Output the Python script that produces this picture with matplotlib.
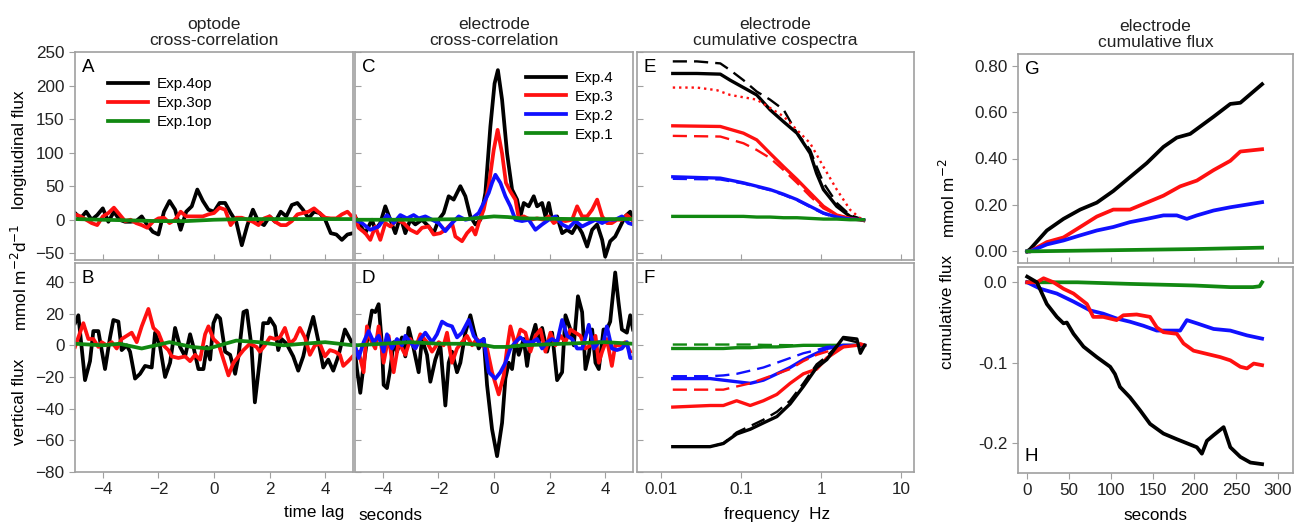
import numpy as np
import matplotlib.pyplot as plt
from matplotlib.ticker import FixedLocator, FixedFormatter, FormatStrFormatter

plt.rcParams['font.family'] = ['Liberation Sans', 'DejaVu Sans']

BLACK = 'black'
RED = '#ff1010'
BLUE = '#1010ff'
GREEN = '#118811'
FRAME = '#a0a0a0'

# ---------------- panel A (optode, longitudinal) ----------------
lag_a = [-5.0, -4.8, -4.6, -4.4, -4.2, -4.0, -3.8, -3.6, -3.4, -3.2, -3.0, -2.8, -2.6,
         -2.4, -2.2, -2.0, -1.8, -1.6, -1.4, -1.2, -1.0, -0.8, -0.6, -0.4, -0.2, 0.0,
         0.2, 0.4, 0.6, 0.8, 1.0, 1.2, 1.4, 1.6, 1.8, 2.0, 2.2, 2.4, 2.6, 2.8, 3.0,
         3.2, 3.4, 3.6, 3.8, 4.0, 4.2, 4.4, 4.6, 4.8, 5.0]
a_exp4 = [10, 2, 12, 0, 7, 17, -3, 12, 0, -3, -3, -2, 5, -8, -18, -22, 12, 28, 15, -15,
          12, 20, 45, 28, 15, 12, 25, 25, 10, -3, -38, -8, 15, -3, -8, 5, -3, 12, 5, 22,
          25, 15, 2, 12, 10, 0, -20, -22, -30, -22, -20]
a_exp3 = [8, 5, 0, -5, -8, 5, 10, 18, 8, -2, 0, -5, -8, -12, -3, 2, 3, -5, 0, 12, 5, 5,
          5, 5, 8, 10, 18, 15, -8, 3, 3, 0, -3, -8, 2, 5, -3, -8, -8, -2, 8, 10, 12, 17,
          10, 3, 2, 2, 8, 12, 3]
lag_a1 = [-5, -4, -3, -2, -1, 0, 1, 2, 3, 4, 5]
a_exp1 = [1, 0, -1, -2, -2, 0, 1, 1, 1, 1, 1]

# ---------------- panel B (optode, vertical) ----------------
lag_b4 = [-5.0, -4.88, -4.64, -4.46, -4.34, -4.16, -3.92, -3.74, -3.62, -3.44, -3.32, -3.14,
          -3.02, -2.84, -2.66, -2.48, -2.24, -2.12, -1.94, -1.76, -1.58, -1.40, -1.22, -1.04,
          -0.86, -0.74, -0.56, -0.38, -0.26, -0.14, -0.02, 0.10, 0.22, 0.40, 0.58, 0.76, 0.88,
          1.06, 1.18, 1.35, 1.47, 1.65, 1.77, 1.95, 2.01, 2.19, 2.31, 2.43, 2.61, 2.85, 3.03,
          3.21, 3.39, 3.57, 3.75, 3.93, 4.11, 4.29, 4.47, 4.71, 4.95]
b_exp4 = [14, 19, -22, -10, 9, 9, -15, 5, 16, 15, -3, 0, -4, -21, -18, -13, -14, 8, -1, -20,
          -11, 11, -1, -7, 7, -1, -15, -15, -1, -9, 14, 19, 17, -4, -6, -18, -7, 21, 22, -1,
          -36, -9, 14, 14, 17, 12, -3, 4, 1, -7, -16, -7, 7, 18, 3, -14, -9, -16, -7, 10, 2]
lag_b3 = [-5.0, -4.88, -4.70, -4.52, -4.34, -4.16, -4.04, -3.86, -3.68, -3.50, -3.32, -3.14,
          -2.96, -2.78, -2.60, -2.36, -2.18, -2.00, -1.82, -1.64, -1.52, -1.28, -1.04, -0.86,
          -0.68, -0.50, -0.32, -0.20, -0.02, 0.16, 0.34, 0.52, 0.70, 0.88, 1.06, 1.29, 1.53,
          1.65, 1.83, 2.01, 2.19, 2.37, 2.55, 2.73, 2.91, 3.09, 3.27, 3.45, 3.63, 3.81, 3.99,
          4.17, 4.35, 4.53, 4.65, 4.83, 4.99]
b_exp3 = [-1, 5, 14, 4, 4, -1, 2, 0, 2, -2, 4, 6, 8, 2, 12, 23, 11, 8, 0, -3, -7, -8, -7,
          -10, -6, -9, 7, 12, 4, 1, -9, -19, -11, -7, -3, 1, -1, -4, 0, 5, 4, 5, 11, 1, 4,
          11, 5, -6, 0, 1, -7, -3, -4, -6, -13, -10, -7]
lag_b1 = [-5.0, -4.0, -3.4, -2.6, -1.6, -0.8, -0.2, 0.8, 1.6, 2.5, 3.2, 4.0, 5.0]
b_exp1 = [1, 0, 1, -2, 2, -1, -2, 3, 2, 0, 1, 2, 0]

# ---------------- panel C (electrode, longitudinal) ----------------
lag_c4 = [-5.0, -4.87, -4.63, -4.39, -4.27, -4.09, -3.91, -3.73, -3.55, -3.37, -3.19, -3.01,
          -2.83, -2.59, -2.35, -2.17, -1.99, -1.81, -1.63, -1.45, -1.21, -1.03, -0.85, -0.67,
          -0.49, -0.31, -0.13, 0.02, 0.14, 0.29, 0.47, 0.65, 0.83, 0.95, 1.07, 1.25, 1.43,
          1.55, 1.73, 1.85, 1.97, 2.09, 2.27, 2.45, 2.63, 2.81, 2.99, 3.17, 3.35, 3.53, 3.71,
          3.89, 4.00, 4.18, 4.36, 4.54, 4.72, 4.90, 5.0]
c_exp4 = [5, -5, -20, 0, -15, -5, 20, 0, -20, 5, -20, 0, -7, 0, -10, -20, 0, 10, 35, 30,
          50, 35, 5, -7, 0, 40, 139, 203, 223, 179, 99, 45, 30, 5, 25, 20, 35, 20, 25, 5, 25,
          0, 5, -20, -15, -20, -7, -20, -40, -15, -7, -30, -55, -32, -25, -10, 5, 12, 0]
lag_c3 = [-5.0, -4.87, -4.63, -4.45, -4.27, -4.09, -3.91, -3.73, -3.49, -3.25, -3.01, -2.77,
          -2.59, -2.35, -2.17, -1.93, -1.75, -1.51, -1.39, -1.15, -0.97, -0.79, -0.67, -0.55,
          -0.37, -0.19, -0.01, 0.13, 0.29, 0.43, 0.59, 0.77, 0.89, 1.07, 1.31, 1.55, 1.79,
          1.97, 2.15, 2.33, 2.57, 2.81, 2.99, 3.17, 3.35, 3.53, 3.71, 3.89, 4.07, 4.24, 4.42,
          4.60, 4.78, 4.96]
c_exp3 = [5, -12, -20, -30, -10, -30, -5, -10, 0, -5, -15, -20, -12, -10, -22, -20, -15, -5,
          -25, -32, -20, -12, -22, -5, 15, 50, 104, 134, 99, 55, 42, 30, 2, 5, 0, 2, 0, 5,
          -5, 0, -2, 0, 20, 5, 5, 15, 30, 5, -5, -5, 0, 0, 7, 0]
lag_c2 = [-5.0, -4.75, -4.45, -4.15, -3.85, -3.61, -3.37, -3.13, -2.89, -2.71, -2.47, -2.23,
          -1.99, -1.75, -1.51, -1.27, -1.03, -0.79, -0.55, -0.37, -0.19, -0.07, 0.05, 0.23,
          0.41, 0.59, 0.77, 1.01, 1.25, 1.49, 1.73, 1.97, 2.21, 2.45, 2.69, 2.93, 3.17, 3.41,
          3.65, 3.89, 4.12, 4.36, 4.60, 4.84, 5.0]
c_exp2 = [0, -5, -15, -10, 7, -5, 7, 2, 7, 2, 5, 0, -5, -17, -5, 5, 0, 2, 10, 25, 40, 55,
          67, 55, 35, 20, 0, -2, 0, -15, -7, 0, 5, -7, -12, -2, -10, -5, 0, -5, 0, 0, 5, -5, -7]
lag_c1 = [-5.0, -3.0, -1.0, -0.5, 0.0, 0.5, 1.0, 3.0, 5.0]
c_exp1 = [0, 0, 1, 3, 5, 4, 2, 1, 1]

# ---------------- panel D (electrode, vertical) ----------------
lag_d4 = [-5.0, -4.93, -4.81, -4.68, -4.51, -4.39, -4.27, -4.15, -4.03, -3.97, -3.85, -3.73,
          -3.61, -3.49, -3.31, -3.19, -3.07, -2.89, -2.71, -2.59, -2.41, -2.29, -2.11, -1.93,
          -1.75, -1.63, -1.51, -1.33, -1.21, -1.03, -0.85, -0.73, -0.55, -0.37, -0.25, -0.07,
          0.11, 0.29, 0.41, 0.53, 0.65, 0.77, 0.89, 1.07, 1.19, 1.31, 1.49, 1.61, 1.73, 1.91,
          2.09, 2.27, 2.45, 2.57, 2.75, 2.87, 3.02, 3.17, 3.29, 3.41, 3.53, 3.65, 3.77, 3.94,
          4.06, 4.18, 4.36, 4.48, 4.60, 4.78, 4.90, 5.0]
d_exp4 = [-4, -15, -30, -11, 10, 22, 21, 26, 0, -25, -27, -15, 2, -4, 5, -7, 11, -2, -17, 4,
          -6, -23, -9, 0, -38, -11, -4, -17, -11, 8, 19, 10, -2, 4, -25, -53, -70, -49, -21,
          -11, -15, 2, -6, 4, -13, 2, 13, 2, 11, -4, 8, -22, -17, 19, 10, 0, 31, 21, -15, -6,
          10, -11, -15, 10, 10, 15, 46, 27, 10, 8, 19, 10]
lag_d3 = [-5.0, -4.87, -4.69, -4.57, -4.45, -4.27, -4.15, -3.97, -3.79, -3.61, -3.43, -3.19,
          -3.01, -2.83, -2.65, -2.41, -2.23, -1.99, -1.81, -1.69, -1.51, -1.33, -1.15, -0.97,
          -0.79, -0.61, -0.43, -0.25, -0.07, 0.17, 0.35, 0.47, 0.59, 0.77, 0.95, 1.13, 1.31,
          1.49, 1.67, 1.85, 2.03, 2.21, 2.39, 2.57, 2.75, 2.93, 3.11, 3.29, 3.47, 3.65, 3.77,
          3.89, 4.06, 4.24, 4.36, 4.54, 4.72, 4.90]
d_exp3 = [-6, -4, -17, 12, 4, -2, 12, -11, 6, -17, 2, -6, 4, -2, 7, 2, -4, 2, 0, 8, -11, -2,
          2, 6, 0, 4, 0, -2, -17, -31, -19, -2, 12, 0, 10, 8, -4, 6, 10, -4, 8, 0, 6, 2, 10,
          8, 6, -2, 0, 6, -11, -4, 4, -13, 0, 0, 2, -4]
lag_d2 = [-5.0, -4.87, -4.69, -4.51, -4.33, -4.15, -3.97, -3.85, -3.67, -3.49, -3.31, -3.19,
          -3.01, -2.83, -2.65, -2.47, -2.23, -2.05, -1.87, -1.69, -1.51, -1.33, -1.15, -0.91,
          -0.73, -0.55, -0.37, -0.19, 0.05, 0.23, 0.41, 0.59, 0.77, 0.95, 1.13, 1.37, 1.55,
          1.73, 1.91, 2.09, 2.27, 2.45, 2.63, 2.81, 2.99, 3.17, 3.29, 3.41, 3.59, 3.77, 3.94,
          4.06, 4.24, 4.42, 4.60, 4.78, 4.90, 5.0]
d_exp2 = [0, -8, 2, 9, 2, 6, -4, 7, -2, 4, 0, 6, 2, -2, 4, 8, 2, 7, 15, 13, 12, 5, 8, 16, 6,
          2, 4, -17, -21, -17, -11, -2, 2, 5, 2, 2, 4, -2, 2, 4, 2, 16, 6, 4, -2, -2, 5, 13,
          -2, 2, 2, 12, -2, -3, -2, 2, -8, -8]
lag_d1 = [-5.0, -4.0, -3.0, -2.0, -1.0, -0.3, 0.0, 0.5, 1.0, 2.5, 4.0, 5.0]
d_exp1 = [0, 1, 2, 1, 1, 0, -1, -1, 0, 1, 2, 1]

# ---------------- panel E (cumulative cospectra, longitudinal) ----------------
f_e4 = [0.014, 0.028, 0.055, 0.073, 0.107, 0.157, 0.23, 0.34, 0.50, 0.73, 0.88, 1.07, 1.57, 2.3, 3.4]
e_exp4 = [218, 218, 217, 208, 197, 186, 164, 146, 129, 99, 69, 45, 20, 5, -1]
e_exp4_dash = [236, 236, 233, 223, 208, 191, 179, 164, 129, 104, 79, 55, 25, 7, 0]
f_e4_dot = [0.014, 0.028, 0.050, 0.073, 0.157, 0.34, 0.73, 1.07, 1.57, 2.3, 3.4]
e_exp4_dot = [197, 197, 193, 186, 179, 154, 114, 79, 45, 15, -2]
f_e = [0.014, 0.055, 0.107, 0.157, 0.23, 0.34, 0.50, 0.73, 1.07, 1.57, 2.3, 3.4]
e_exp3 = [140, 139, 129, 119, 99, 79, 60, 40, 20, 7, 2, -1]
e_exp3_dash = [125, 124, 114, 104, 92, 74, 55, 35, 17, 7, 2, -1]
e_exp2 = [64, 62, 55, 50, 45, 38, 30, 20, 10, 4, 1, 0]
e_exp2_dash = [61, 60, 54, 49, 44, 37, 29, 19, 9, 3, 1, 0]
e_exp1 = [5, 5, 5, 4, 4, 3, 3, 2, 1, 1, 0, 0]

# ---------------- panel F (cumulative cospectra, vertical) ----------------
f_f = [0.014, 0.041, 0.060, 0.088, 0.13, 0.19, 0.28, 0.41, 0.60, 0.88, 1.18, 1.9, 2.8, 3.1, 3.5]
f_exp4 = [-64, -64, -62, -56, -53, -49, -45, -37, -26, -14, -9, 5, 4, -5, 0]
f_exp4_dash = [-64, -64, -62, -55, -51, -47, -42, -35, -24, -12, -7, 4, 2, -3, 0]
f_exp3 = [-39, -38, -38, -35, -38, -35, -31, -24, -18, -15, -8, -1, 0, 1, 0]
f_exp3_dash = [-28, -28, -28, -26, -24, -21, -18, -15, -10, -6, -4, -1, 0, 0, 0]
f_exp2 = [-21, -21, -22, -23, -24, -22, -18, -14, -9, -5, -2, 0, 0, 0, 0]
f_exp2_dash = [-19.5, -19.5, -19, -18, -16, -14, -11, -8, -5, -3, -1, 0, 0, 0, 0]
f_exp1 = [-2, -2, -2, -1.5, -1.5, -1, -1, -0.5, 0, 0, 0, 0, 0, 0, 0]
f_exp1_dash = [0.5, 0.5, 0.5, 0.5, 0.5, 0.3, 0.2, 0.1, 0, 0, 0, 0, 0, 0, 0]

# ---------------- panel G (cumulative flux, longitudinal) ----------------
t_g4 = [0, 3.6, 23.5, 43.4, 63.4, 83.3, 103, 123, 143, 163, 179, 195, 223, 243, 255, 281]
g_exp4 = [0, 0.01, 0.09, 0.14, 0.18, 0.21, 0.26, 0.32, 0.38, 0.45, 0.49, 0.506, 0.58, 0.635, 0.64, 0.72]
t_g = [0, 3.6, 23.5, 43.4, 63.4, 83.3, 103, 123, 143, 163, 183, 203, 223, 243, 255, 281]
g_exp3 = [0, 0, 0.04, 0.06, 0.105, 0.15, 0.18, 0.18, 0.21, 0.24, 0.28, 0.305, 0.35, 0.39, 0.43, 0.44]
t_g2 = [0, 3.6, 23.5, 43.4, 63.4, 83.3, 103, 123, 143, 163, 179, 191, 203, 223, 243, 281]
g_exp2 = [0, 0, 0.03, 0.047, 0.069, 0.09, 0.105, 0.126, 0.14, 0.155, 0.155, 0.14, 0.155, 0.176, 0.19, 0.212]
t_g1 = [0, 100, 200, 281]
g_exp1 = [0, 0.005, 0.01, 0.016]

# ---------------- panel H (cumulative flux, vertical) ----------------
t_h4 = [0, 11.6, 23.5, 35.5, 43.4, 47.4, 55.4, 67.4, 83.3, 99.3, 105, 111, 123, 135, 147, 163,
        179, 191, 203, 209, 215, 223, 235, 243, 255, 267, 281]
h_exp4 = [0.007, 0, -0.027, -0.043, -0.051, -0.05, -0.064, -0.08, -0.093, -0.105, -0.114, -0.13,
          -0.143, -0.159, -0.176, -0.188, -0.195, -0.2, -0.205, -0.213, -0.197, -0.19, -0.18,
          -0.205, -0.217, -0.224, -0.226]
t_h3 = [0, 11.6, 19.6, 31.5, 43.4, 55.4, 71.4, 79, 91, 107, 115, 131, 147, 155, 163, 179, 187,
        199, 215, 231, 243, 255, 263, 271, 281]
h_exp3 = [0, 0, 0.005, 0, -0.008, -0.014, -0.027, -0.043, -0.043, -0.047, -0.041, -0.04, -0.043,
          -0.056, -0.062, -0.064, -0.076, -0.085, -0.089, -0.093, -0.097, -0.105, -0.107,
          -0.101, -0.103]
t_h2 = [0, 15.6, 35.5, 55.4, 75.4, 91, 107, 123, 139, 155, 171, 183, 191, 203, 223, 243, 263, 281]
h_exp2 = [0, -0.008, -0.014, -0.024, -0.035, -0.039, -0.045, -0.049, -0.054, -0.06, -0.06,
          -0.06, -0.047, -0.051, -0.058, -0.06, -0.066, -0.07]
t_h1 = [0, 60, 123, 200, 243, 270, 278, 281]
h_exp1 = [0, 0, -0.002, -0.004, -0.006, -0.006, -0.005, 0.0]


fig = plt.figure(figsize=(12.96, 5.23), dpi=100)
W, H = 1296.0, 523.0
FS = 12.3


def add_ax(x0, y0, x1, y1, **kw):
    return fig.add_axes([x0 / W, 1 - y1 / H, (x1 - x0) / W, (y1 - y0) / H], **kw)


def style(ax):
    for s in ax.spines.values():
        s.set_color(FRAME)
        s.set_linewidth(1.2)
    ax.tick_params(colors=FRAME, labelcolor='#222222', labelsize=FS, length=4)


axA = add_ax(75, 52, 353, 260)
axB = add_ax(75, 263, 353, 472)
axC = add_ax(355, 52, 633, 260)
axD = add_ax(355, 263, 633, 472)
axE = add_ax(637, 52, 914, 260)
axF = add_ax(637, 263, 914, 472)
axG = add_ax(1018, 54, 1293, 263)
axH = add_ax(1018, 267, 1293, 473)

lw = 2.7
lw_e = 2.4
lw_dash = 1.7
dash = (0, (6, 3))

# A
axA.plot(lag_a, a_exp4, color=BLACK, lw=lw, label='Exp.4op')
axA.plot(lag_a, a_exp3, color=RED, lw=lw, label='Exp.3op')
axA.plot(lag_a1, a_exp1, color=GREEN, lw=lw, label='Exp.1op')
axA.legend(loc='upper left', bbox_to_anchor=(0.07, 0.945), frameon=False, fontsize=11,
           handlelength=2.6, labelspacing=0.32, handletextpad=0.6)

# B
axB.plot(lag_b4, b_exp4, color=BLACK, lw=lw)
axB.plot(lag_b3, b_exp3, color=RED, lw=lw)
axB.plot(lag_b1, b_exp1, color=GREEN, lw=lw)

# C
axC.plot(lag_c4, c_exp4, color=BLACK, lw=lw, label='Exp.4')
axC.plot(lag_c3, c_exp3, color=RED, lw=lw, label='Exp.3')
axC.plot(lag_c2, c_exp2, color=BLUE, lw=lw, label='Exp.2')
axC.plot(lag_c1, c_exp1, color=GREEN, lw=lw, label='Exp.1')
axC.legend(loc='upper right', bbox_to_anchor=(0.98, 0.975), frameon=False, fontsize=11,
           handlelength=2.6, labelspacing=0.32, handletextpad=0.6)

# D
axD.plot(lag_d4, d_exp4, color=BLACK, lw=lw)
axD.plot(lag_d3, d_exp3, color=RED, lw=lw)
axD.plot(lag_d2, d_exp2, color=BLUE, lw=lw)
axD.plot(lag_d1, d_exp1, color=GREEN, lw=lw)

# E
axE.plot(f_e4, e_exp4_dash, color=BLACK, lw=lw_dash, ls=dash)
axE.plot(f_e4, e_exp4, color=BLACK, lw=lw_e)
axE.plot(f_e4_dot, e_exp4_dot, color=RED, lw=1.7, ls=':')
axE.plot(f_e, e_exp3_dash, color=RED, lw=lw_dash, ls=dash)
axE.plot(f_e, e_exp3, color=RED, lw=lw_e)
axE.plot(f_e, e_exp2_dash, color=BLUE, lw=lw_dash, ls=dash)
axE.plot(f_e, e_exp2, color=BLUE, lw=lw_e)
axE.plot(f_e, e_exp1, color=GREEN, lw=lw_e)

# F
axF.plot(f_f, f_exp1_dash, color=GREEN, lw=lw_dash, ls=dash)
axF.plot(f_f, f_exp1, color=GREEN, lw=lw_e)
axF.plot(f_f, f_exp2_dash, color=BLUE, lw=lw_dash, ls=dash)
axF.plot(f_f, f_exp2, color=BLUE, lw=lw_e)
axF.plot(f_f, f_exp3_dash, color=RED, lw=lw_dash, ls=dash)
axF.plot(f_f, f_exp3, color=RED, lw=lw_e)
axF.plot(f_f, f_exp4_dash, color=BLACK, lw=lw_dash, ls=dash)
axF.plot(f_f, f_exp4, color=BLACK, lw=lw_e)

# G
axG.plot(t_g4, g_exp4, color=BLACK, lw=lw)
axG.plot(t_g, g_exp3, color=RED, lw=lw)
axG.plot(t_g2, g_exp2, color=BLUE, lw=lw)
axG.plot(t_g1, g_exp1, color=GREEN, lw=lw)

# H
axH.plot(t_h1, h_exp1, color=GREEN, lw=lw)
axH.plot(t_h2, h_exp2, color=BLUE, lw=lw)
axH.plot(t_h3, h_exp3, color=RED, lw=lw)
axH.plot(t_h4, h_exp4, color=BLACK, lw=lw)

# axes limits / ticks
lag_ticks = [-4, -2, 0, 2, 4]
for ax in (axA, axC):
    ax.set_xlim(-5, 5)
    ax.set_ylim(-60, 250)
    ax.set_xticks(lag_ticks)
    ax.set_yticks([-50, 0, 50, 100, 150, 200, 250])
for ax in (axB, axD):
    ax.set_xlim(-5, 5)
    ax.set_ylim(-80, 52)
    ax.set_xticks(lag_ticks)
    ax.set_yticks([-80, -60, -40, -20, 0, 20, 40])

for ax in (axE, axF):
    ax.set_xscale('log')
    ax.set_xlim(0.005, 14.5)
    ax.xaxis.set_major_locator(FixedLocator([0.01, 0.1, 1, 10]))
    ax.xaxis.set_major_formatter(FixedFormatter(['0.01', '0.1', '1', '10']))
    ax.xaxis.set_minor_locator(FixedLocator([]))
axE.set_ylim(-60, 250)
axE.set_yticks([-50, 0, 50, 100, 150, 200, 250])
axF.set_ylim(-80, 52)
axF.set_yticks([-80, -60, -40, -20, 0, 20, 40])

for ax in (axG, axH):
    ax.set_xlim(-11, 318)
    ax.set_xticks([0, 50, 100, 150, 200, 250, 300])
axG.set_ylim(-0.05, 0.85)
axG.set_yticks([0.0, 0.2, 0.4, 0.6, 0.8])
axG.yaxis.set_major_formatter(FormatStrFormatter('%.2f'))
axH.set_ylim(-0.237, 0.019)
axH.set_yticks([-0.2, -0.1, 0.0])
axH.yaxis.set_major_formatter(FormatStrFormatter('%.1f'))

for ax in (axA, axB, axC, axD, axE, axF, axG, axH):
    style(ax)

for ax in (axA, axC, axE, axG):
    ax.tick_params(axis='x', direction='in', labelbottom=False)
for ax in (axC, axD, axE, axF):
    ax.tick_params(axis='y', direction='in', labelleft=False)

# panel letters
for ax, letter in ((axA, 'A'), (axB, 'B'), (axC, 'C'), (axD, 'D'), (axE, 'E'), (axF, 'F'), (axG, 'G')):
    ax.text(0.025, 0.965, letter, transform=ax.transAxes, ha='left', va='top', fontsize=13.5)
axH.text(0.025, 0.04, 'H', transform=axH.transAxes, ha='left', va='bottom', fontsize=13.5)

# column titles
for ax, title in ((axA, 'optode\ncross-correlation'), (axC, 'electrode\ncross-correlation'),
                  (axE, 'electrode\ncumulative cospectra'), (axG, 'electrode\ncumulative flux')):
    ax.set_title(title, fontsize=FS + 0.3, color='#222222', pad=5, linespacing=1.05)

# axis labels
fig.text(20 / W, 1 - 150 / H, 'longitudinal flux', rotation=90, ha='center', va='center', fontsize=FS)
fig.text(20 / W, 1 - 277 / H, 'mmol m$^{-2}$d$^{-1}$', rotation=90, ha='center', va='center', fontsize=FS)
fig.text(20 / W, 1 - 402 / H, 'vertical flux', rotation=90, ha='center', va='center', fontsize=FS)
fig.text(948 / W, 1 - 198 / H, 'mmol m$^{-2}$', rotation=90, ha='center', va='center', fontsize=FS)
fig.text(948 / W, 1 - 312 / H, 'cumulative flux', rotation=90, ha='center', va='center', fontsize=FS)
fig.text(314 / W, 1 - 513 / H, 'time lag', ha='center', va='center', fontsize=FS)
fig.text(390 / W, 1 - 515 / H, 'seconds', ha='center', va='center', fontsize=FS)
fig.text(777 / W, 1 - 515 / H, 'frequency  Hz', ha='center', va='center', fontsize=FS)
fig.text(1155 / W, 1 - 515 / H, 'seconds', ha='center', va='center', fontsize=FS)

fig.savefig('out.png', dpi=100, facecolor='white')
